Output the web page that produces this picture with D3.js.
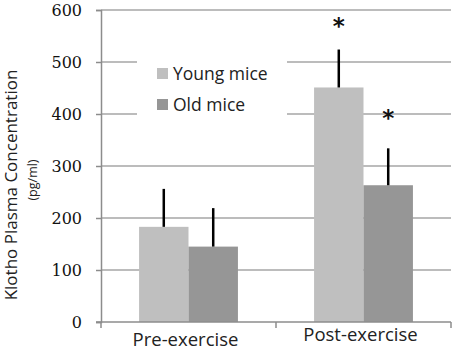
<!DOCTYPE html>
<html><head><meta charset="utf-8">
<script src="https://cdn.jsdelivr.net/npm/d3@7"></script>
<style>body{margin:0;background:#fff}svg{display:block}.ytl{font-family:"DejaVu Serif","Liberation Serif",serif !important}</style>
</head><body>
<svg id="chart" width="454" height="357"></svg>
<script>
const categories = ["Pre-exercise", "Post-exercise"];
const seriesNames = ["Young mice", "Old mice"];
const youngValues = [183, 451];
const oldValues = [145, 263];
const youngErrors = [73, 73];
const oldErrors = [74, 71];
const yTicks = [0, 100, 200, 300, 400, 500, 600];
// significance markers
const starCategory = [1, 1];
const starSeries = [0, 1];
const starValues = [577, 400];

const colors = ["#bfbfbf", "#969696"];
const svg = d3.select("#chart");
const mLeft = 101, mRight = 451, mTop = 10, mBottom = 322;

const x = d3.scaleBand().domain(categories).range([mLeft, mRight]).padding(0);
const xs = d3.scaleBand().domain(seriesNames).range([0, x.bandwidth()]).paddingInner(0).paddingOuter(0.77);
const y = d3.scaleLinear().domain([0, 600]).range([mBottom, mTop]);

// gridlines
svg.append("g").selectAll("line").data(yTicks.filter(d => d > 0)).join("line")
  .attr("x1", mLeft).attr("x2", mRight)
  .attr("y1", d => y(d)).attr("y2", d => y(d))
  .attr("stroke", "#a6a6a6").attr("stroke-width", 1.5);

// legend background
svg.append("rect").attr("x", 137).attr("y", 40).attr("width", 150).attr("height", 88).attr("fill", "#fff");

// y axis
const yAxis = d3.axisLeft(y).tickValues(yTicks).tickSize(5).tickPadding(14);
const gy = svg.append("g").attr("transform", `translate(${mLeft},0)`).call(yAxis)
  .attr("font-family", null);
gy.select(".domain").attr("stroke", "#8c8c8c").attr("stroke-width", 1.5);
gy.selectAll(".tick line").attr("stroke", "#8c8c8c").attr("stroke-width", 1.5);
gy.selectAll(".tick text").attr("class", "ytl").style("font-size", "16px").attr("fill", "#111");

// bars
const data = [];
categories.forEach((c, i) => {
  data.push({c, s: seriesNames[0], v: youngValues[i], e: youngErrors[i], k: 0});
  data.push({c, s: seriesNames[1], v: oldValues[i], e: oldErrors[i], k: 1});
});
svg.append("g").selectAll("rect").data(data).join("rect")
  .attr("x", d => x(d.c) + xs(d.s))
  .attr("width", xs.bandwidth())
  .attr("y", d => y(d.v))
  .attr("height", d => y(0) - y(d.v))
  .attr("fill", d => colors[d.k]);

// error bars (upper only)
svg.append("g").selectAll("line").data(data).join("line")
  .attr("x1", d => x(d.c) + xs(d.s) + xs.bandwidth() / 2)
  .attr("x2", d => x(d.c) + xs(d.s) + xs.bandwidth() / 2)
  .attr("y1", d => y(d.v))
  .attr("y2", d => y(d.v + d.e))
  .attr("stroke", "#000").attr("stroke-width", 2.5);

// x axis
const xAxisG = svg.append("g");
xAxisG.append("line").attr("x1", mLeft - 5).attr("x2", mRight).attr("y1", y(0)).attr("y2", y(0))
  .attr("stroke", "#8c8c8c").attr("stroke-width", 1.5);
const xTickPos = [mLeft].concat(categories.map(c => x(c) + x.bandwidth()));
xAxisG.selectAll(".xt").data(xTickPos).join("line")
  .attr("x1", d => d).attr("x2", d => d).attr("y1", y(0)).attr("y2", y(0) + 6)
  .attr("stroke", "#8c8c8c").attr("stroke-width", 1.5);
const catBaseline = [346, 341];
xAxisG.selectAll("text").data(categories).join("text")
  .attr("x", d => x(d) + x.bandwidth() / 2 - 3)
  .attr("y", (d, i) => catBaseline[i])
  .attr("text-anchor", "middle")
  .attr("font-family", "'Open Sans', sans-serif").attr("font-size", 18.5).attr("fill", "#222")
  .text(d => d);

// stars
svg.append("g").selectAll("text").data(starValues).join("text")
  .attr("x", (d, i) => x(categories[starCategory[i]]) + xs(seriesNames[starSeries[i]]) + xs.bandwidth() / 2)
  .attr("y", d => y(d) + 12)
  .attr("text-anchor", "middle")
  .attr("font-family", "'DejaVu Sans', sans-serif").attr("font-size", 23).attr("font-weight", "bold").attr("fill", "#111")
  .text("*");

// legend
const lg = svg.append("g");
seriesNames.forEach((s, i) => {
  lg.append("rect").attr("x", 157).attr("y", 68 + i * 31).attr("width", 11).attr("height", 11).attr("fill", colors[i]);
  lg.append("text").attr("x", 173).attr("y", 79.5 + i * 31)
    .attr("font-family", "'Open Sans', sans-serif").attr("font-size", 17.5).attr("fill", "#222").text(s);
});

// y title
svg.append("text").attr("transform", "translate(17,185) rotate(-90)")
  .attr("text-anchor", "middle").attr("font-family", "'Open Sans', sans-serif").attr("font-size", 17).attr("fill", "#222")
  .text("Klotho Plasma Concentration");
svg.append("text").attr("transform", "translate(37,180) rotate(-90)")
  .attr("text-anchor", "middle").attr("font-family", "'Open Sans', sans-serif").attr("font-size", 12.5).attr("fill", "#222")
  .text("(pg/ml)");
</script>
</body></html>
